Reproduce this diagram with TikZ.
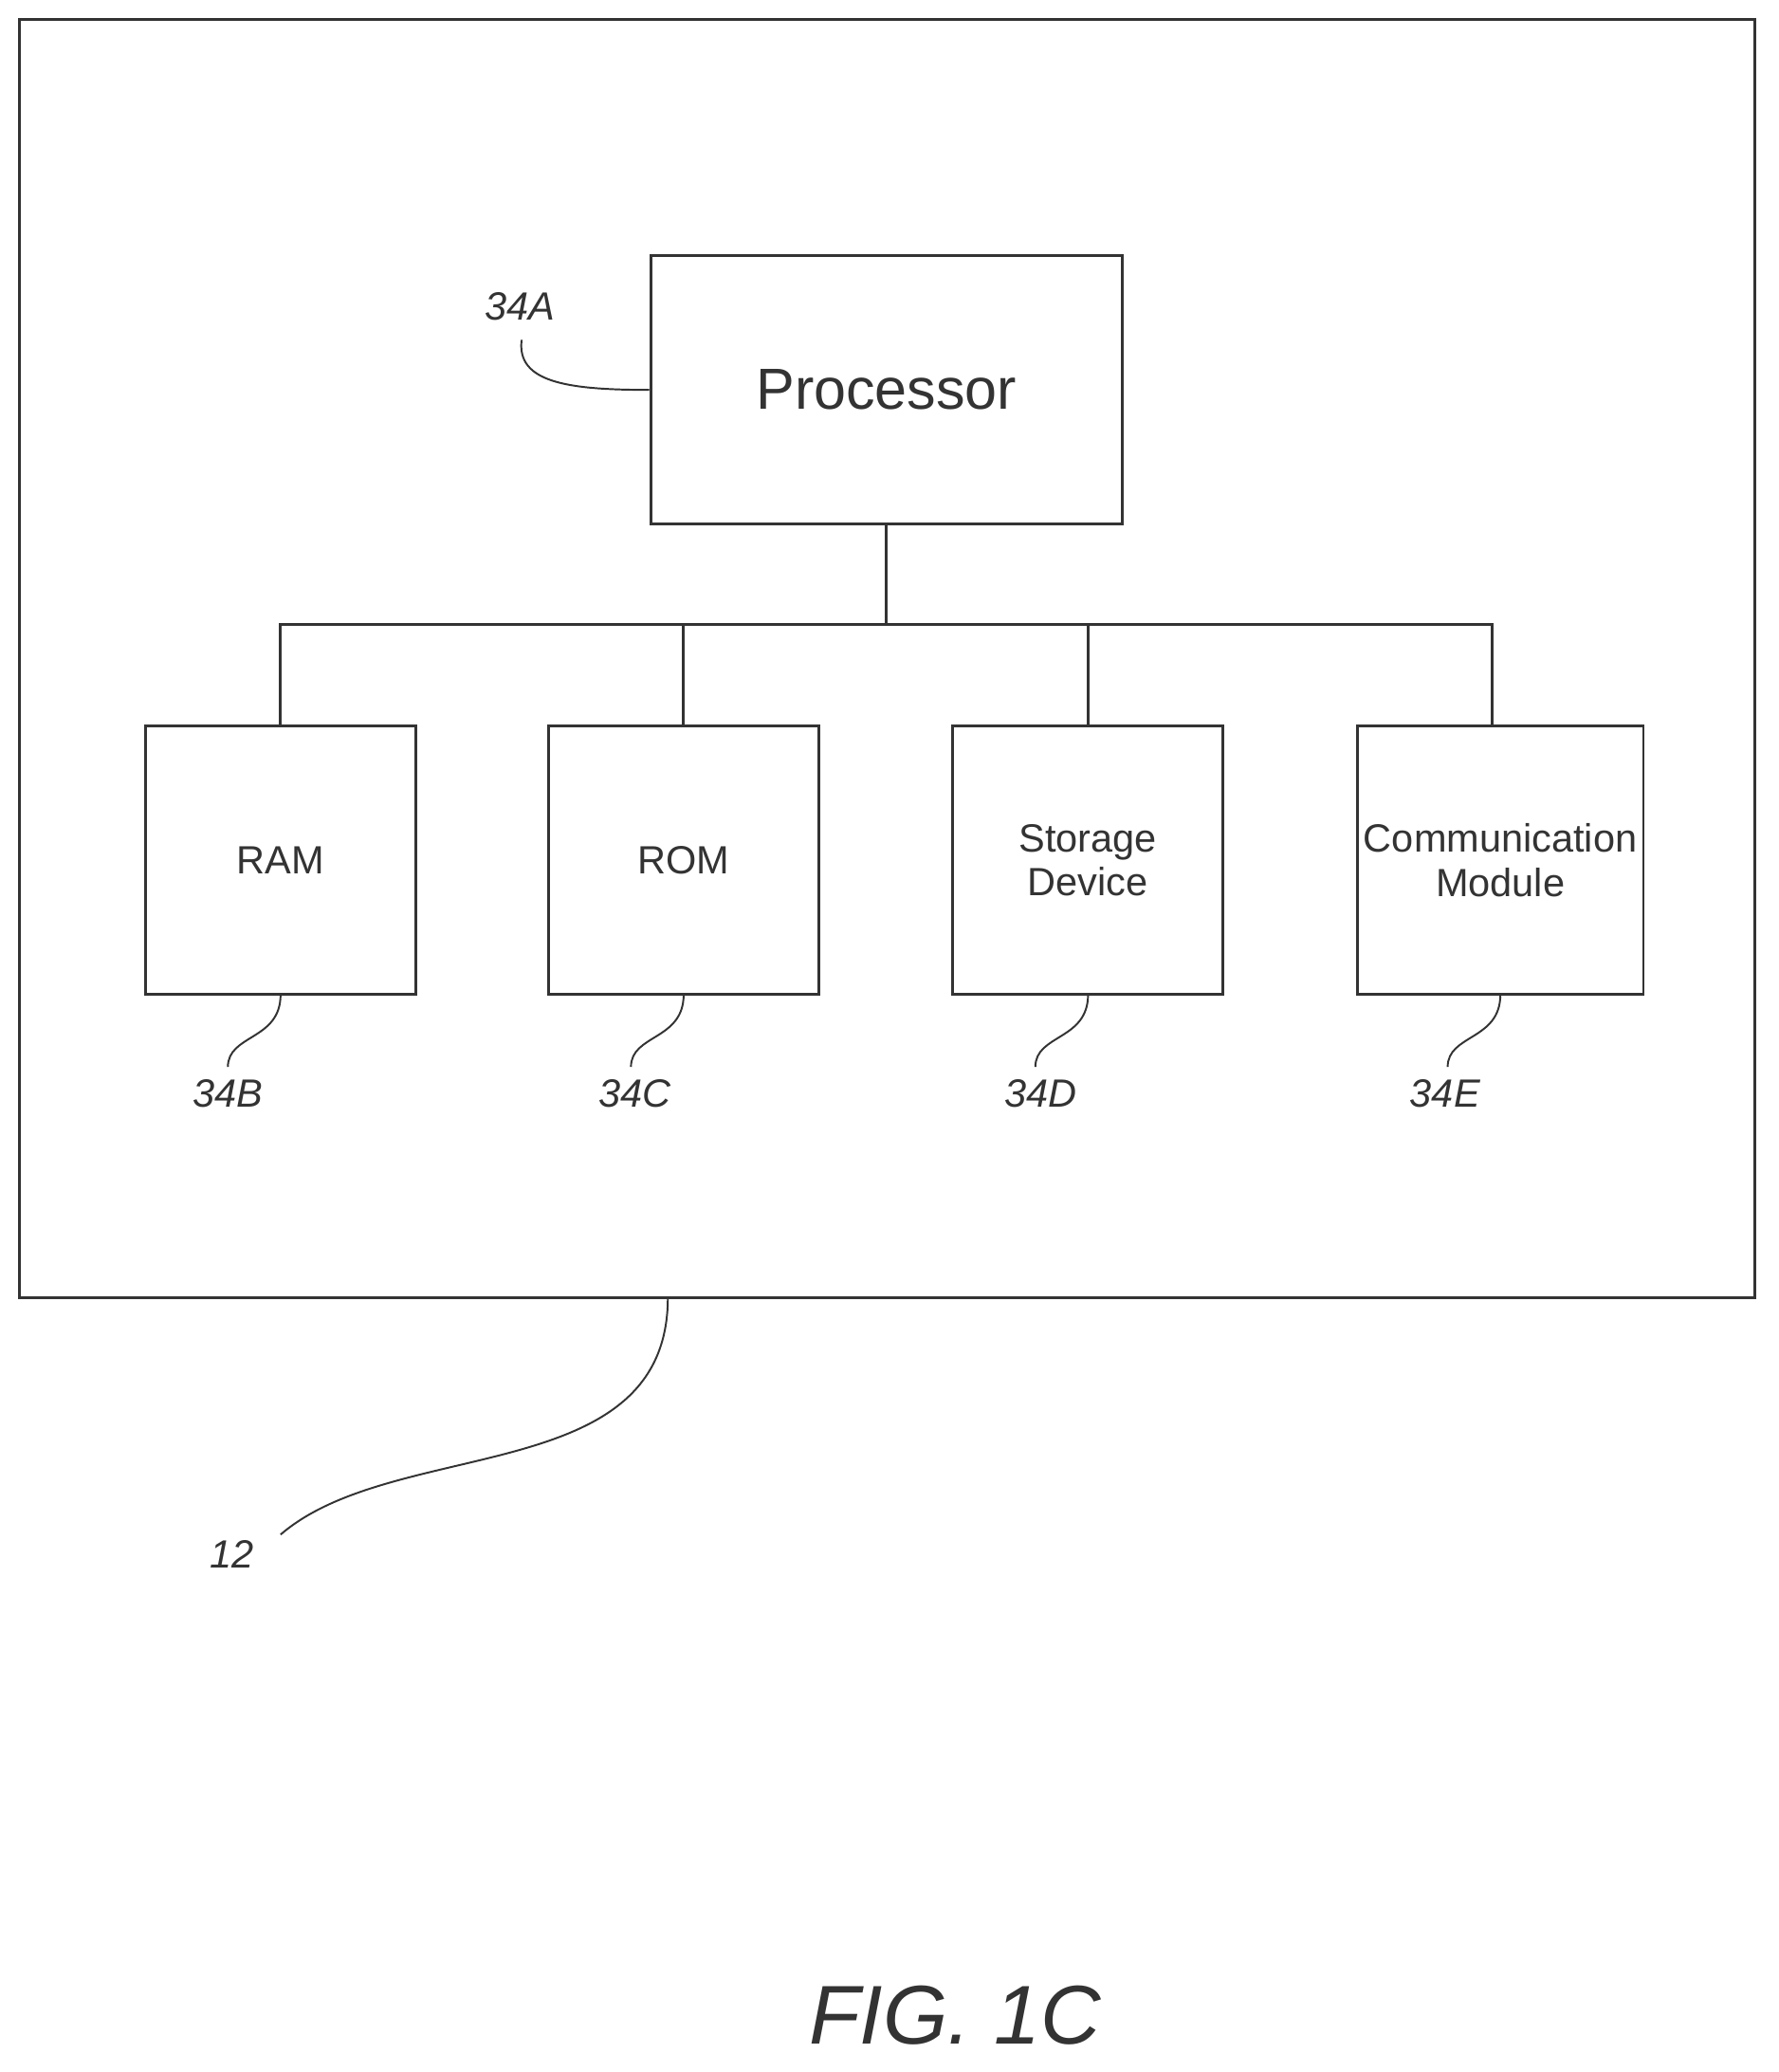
\documentclass[tikz,border=0pt]{standalone}
\usepackage{fontspec}
\setmainfont{Liberation Sans}
\usetikzlibrary{positioning}
\begin{document}
\begin{tikzpicture}[x=0.01cm,y=-0.01cm]
        \tikzstyle{block} = [rectangle, draw=black!80, semithick, inner sep=0pt, align=center, minimum height=2.04cm, font=\fontsize{8.5}{9.5}\selectfont, text=black!80]
        \tikzstyle{ref} = [font=\itshape\fontsize{8.5}{10}\selectfont, text=black!80]
        \tikzstyle{lead} = [thin, black!80]

                \useasboundingbox (0,0) rectangle (1350,1573);
                \draw[semithick, black!80] (15,15) rectangle (1332,985);

                \node (proc) [block, minimum width=3.58cm, font=\fontsize{12.5}{15}\selectfont] at (673,296) {Processor};
                \node (ram) [block, minimum width=2.05cm] at (213,653) {RAM};
                \node (rom) [block, minimum width=2.05cm] at (519,653) {ROM};
                \node (stor) [block, minimum width=2.05cm] at (826,653) {Storage\\Device};
                \node (comm) [block, minimum width=2.17cm] at (1139,653) {Communication\\Module};

                \coordinate (bus) at (673,474);
                \coordinate (commtop) at (1133,551);
                \draw[semithick, black!80] (proc.south) -- (bus);
                \draw[semithick, black!80] (ram.north) |- (bus) -| (commtop);
                \draw[semithick, black!80] (rom.north) -- (rom.north |- bus);
                \draw[semithick, black!80] (stor.north) -- (stor.north |- bus);

                \node (l34a) [ref] at (395,233) {34A};
                \node (l34b) [ref] at (173,830) {34B};
                \node (l34c) [ref] at (482,830) {34C};
                \node (l34d) [ref] at (790,830) {34D};
                \node (l34e) [ref] at (1097,830) {34E};
                \node (l12) [ref] at (176,1180) {12};
                \node (fig) [font=\itshape\fontsize{18}{22}\selectfont, text=black!80] at (725,1530) {FIG. 1C};

                \draw[lead] (396,258) .. controls (392,290) and (430,296) .. (proc.west);
                \foreach \x/\l in {213/34b, 519/34c, 826/34d, 1139/34e} {
                    \draw[lead] (\x,755) .. controls (\x,790) and (\x-40,785) .. (\x-40,810);
                }
                \draw[lead] (507,985) .. controls (507,1130) and (300,1090) .. (213,1165);
    \end{tikzpicture}
\end{document}
